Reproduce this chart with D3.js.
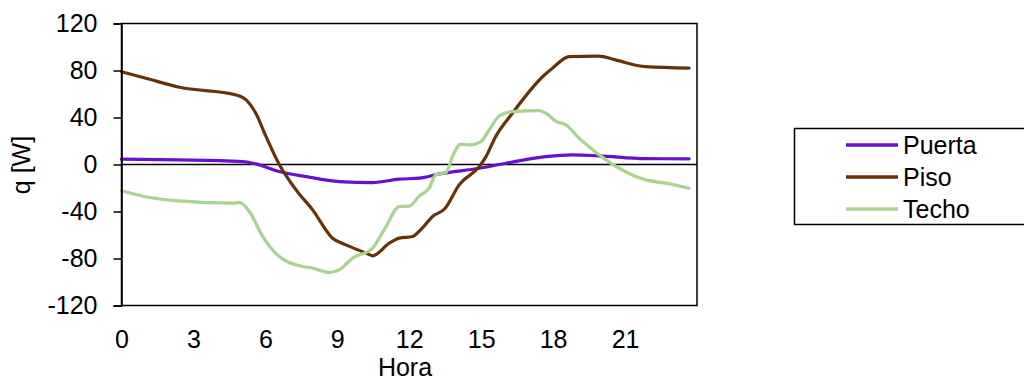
<!DOCTYPE html>
<html>
<head>
<meta charset="utf-8">
<script src="https://cdn.jsdelivr.net/npm/d3@7"></script>
<style>
  html, body { margin: 0; padding: 0; background: #fff; }
  svg { display: block; }
  text { font-family: "Liberation Sans", Arial, sans-serif; fill: #000; }
</style>
</head>
<body>
<svg id="chart" width="1024" height="380"></svg>
<script>
const seriesNames = ["Puerta", "Piso", "Techo"];
const seriesColors = ["#6a0fcf", "#683208", "#a8d48e"];

const xTicks = [0, 3, 6, 9, 12, 15, 18, 21];
const yTicks = [-120, -80, -40, 0, 40, 80, 120];

const puertaHours = [0, 5.05, 5.6, 6.58, 7.7, 9.08, 10.47, 11.58, 12.42, 13.25, 14.92, 16.03, 17.7, 18.8, 19.9, 21.86, 23.67];
const puertaValues = [4.5, 2.5, 0.5, -6, -10.3, -14.5, -15.4, -12.5, -11.6, -8, -3.2, 1.1, 6.7, 8.2, 7.4, 5, 4.8];

const pisoHours = [0, 1.17, 2.42, 4.78, 5.2, 5.6, 6.03, 6.58, 7.28, 7.97, 8.8, 9.36, 10.2, 10.47, 11.17, 11.58, 12.14, 12.5, 12.97, 13.5, 14.08, 14.92, 15.2, 15.6, 16.3, 17.56, 17.97, 18.67, 19.9, 20.6, 21.86, 23.67];
const pisoValues = [79, 72.5, 65.7, 59.2, 55, 43.6, 23.7, 0, -21.6, -38.6, -62.7, -68.4, -75.4, -77.7, -67, -62.7, -61.3, -55, -44.3, -37.2, -17.3, -1.8, 6.7, 23.7, 43.6, 74.7, 81.9, 91.8, 92.3, 89, 83.3, 82.1];

const techoHours = [0, 1.17, 2.42, 4.64, 4.92, 5.33, 5.89, 6.58, 7.55, 7.97, 8.67, 9.08, 9.64, 10.47, 11.03, 11.58, 12, 12.42, 12.83, 13.1, 13.53, 13.8, 14.15, 14.5, 14.99, 15.33, 15.75, 16.3, 17.42, 17.7, 18.1, 18.53, 19.08, 19.92, 20.75, 21.86, 22.7, 23.67];
const techoValues = [-22.4, -28.1, -31, -32.9, -32.3, -40, -61.3, -78.3, -86.8, -88.2, -91.9, -89.6, -79.7, -71.2, -52.8, -35.8, -35.5, -26.7, -20.2, -8.8, -6.9, 6.7, 17.3, 16.7, 19.5, 29.4, 41.3, 45, 45.8, 43.6, 37, 33.7, 22.4, 8.2, -3.2, -13.1, -15.9, -20.2];

const series = [
  { name: seriesNames[0], color: seriesColors[0], pts: puertaHours.map((h, i) => [h, puertaValues[i]]) },
  { name: seriesNames[1], color: seriesColors[1], pts: pisoHours.map((h, i) => [h, pisoValues[i]]) },
  { name: seriesNames[2], color: seriesColors[2], pts: techoHours.map((h, i) => [h, techoValues[i]]) }
];

const FONT = "25px";
const svg = d3.select("#chart");
const plot = { left: 121.5, right: 697, top: 23.5, bottom: 305.5 };

const x = d3.scaleLinear().domain([0, 24]).range([plot.left, plot.right]);
const y = d3.scaleLinear().domain([-120, 120]).range([plot.bottom, plot.top]);

// zero line
svg.append("line")
  .attr("x1", plot.left).attr("x2", plot.right)
  .attr("y1", y(0)).attr("y2", y(0))
  .attr("stroke", "#000").attr("stroke-width", 1.5);

// series
const line = d3.line().x(d => x(d[0])).y(d => y(d[1])).curve(d3.curveMonotoneX);
series.forEach(s => {
  svg.append("path")
    .attr("d", line(s.pts))
    .attr("fill", "none")
    .attr("stroke", s.color)
    .attr("stroke-width", 3.2)
    .attr("stroke-linejoin", "round")
    .attr("stroke-linecap", "round");
});

// plot box
svg.append("rect")
  .attr("x", plot.left).attr("y", plot.top)
  .attr("width", plot.right - plot.left).attr("height", plot.bottom - plot.top)
  .attr("fill", "none").attr("stroke", "#000").attr("stroke-width", 1.5);

const fmt = d => String(d);

// y axis
const yAxis = d3.axisLeft(y).tickValues(yTicks).tickSize(8).tickPadding(16).tickFormat(fmt);
const yg = svg.append("g").attr("transform", `translate(${plot.left},0)`).call(yAxis);
yg.select(".domain").attr("stroke", "#000").attr("stroke-width", 1.5);
yg.selectAll(".tick line").attr("stroke", "#000").attr("stroke-width", 1.5);
yg.selectAll(".tick text").style("font-family", "Liberation Sans, Arial, sans-serif").style("font-size", FONT).attr("fill", "#000");

// x axis (labels only)
const xAxis = d3.axisBottom(x).tickValues(xTicks).tickSize(0).tickPadding(24.5).tickFormat(fmt);
const xg = svg.append("g").attr("transform", `translate(0,${plot.bottom})`).call(xAxis);
xg.select(".domain").remove();
xg.selectAll(".tick text").style("font-family", "Liberation Sans, Arial, sans-serif").style("font-size", FONT).attr("fill", "#000");

// axis titles
svg.append("text")
  .attr("x", 405).attr("y", 376)
  .attr("text-anchor", "middle")
  .style("font-size", FONT)
  .text("Hora");

svg.append("text")
  .attr("transform", "translate(30,165) rotate(-90)")
  .attr("text-anchor", "middle")
  .style("font-size", FONT)
  .text("q [W]");

// legend
const lg = svg.append("g");
lg.append("rect")
  .attr("x", 794.5).attr("y", 128.5)
  .attr("width", 240).attr("height", 96)
  .attr("fill", "#fff").attr("stroke", "#000").attr("stroke-width", 1.5);
series.forEach((s, i) => {
  const cy = 145 + i * 32;
  lg.append("line")
    .attr("x1", 846).attr("x2", 898)
    .attr("y1", cy).attr("y2", cy)
    .attr("stroke", s.color).attr("stroke-width", 3.5);
  lg.append("text")
    .attr("x", 903).attr("y", cy + 9)
    .style("font-size", FONT)
    .text(s.name);
});
</script>
</body>
</html>
